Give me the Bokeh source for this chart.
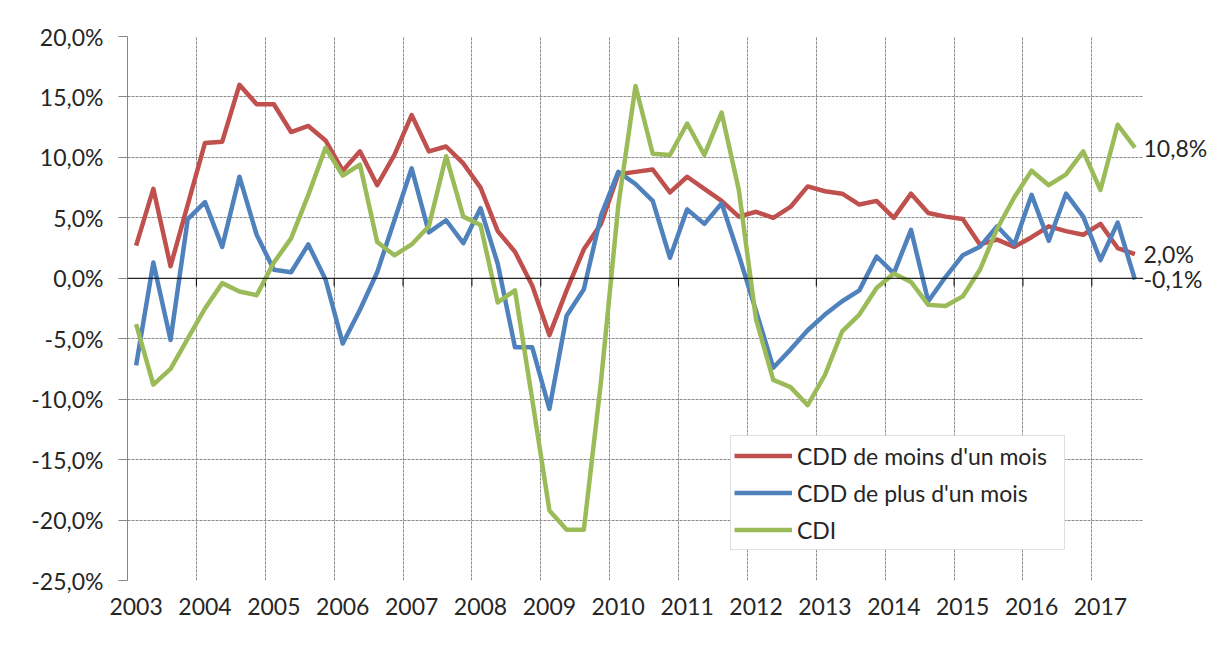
from bokeh.plotting import figure
from bokeh.models import (FixedTicker, CustomJSTickFormatter, Span, Legend,
                          LegendItem, LinearAxis, Range1d)
from bokeh.embed import file_html
from bokeh.resources import INLINE

years = list(range(2003, 2018))
n_quarters = 59  # 2003T1 .. 2017T3

cdd_moins = [2.7, 7.4, 1.0, 6.1, 11.2, 11.3, 16.0, 14.4, 14.4, 12.1, 12.6, 11.4,
             8.9, 10.5, 7.7, 10.2, 13.5, 10.5, 10.9, 9.5, 7.5, 3.9, 2.2, -0.6,
             -4.7, -1.0, 2.4, 4.5, 8.6, 8.8, 9.0, 7.1, 8.4, 7.4, 6.4, 5.1,
             5.5, 5.0, 5.9, 7.6, 7.2, 7.0, 6.1, 6.4, 5.0, 7.0, 5.4, 5.1,
             4.9, 2.8, 3.2, 2.6, 3.4, 4.3, 3.9, 3.6, 4.5, 2.5, 2.0]
cdd_plus = [-7.2, 1.3, -5.1, 4.9, 6.3, 2.6, 8.4, 3.6, 0.7, 0.5, 2.8, -0.1,
            -5.4, -2.6, 0.5, 4.8, 9.1, 3.8, 4.8, 2.9, 5.8, 1.2, -5.7, -5.7,
            -10.8, -3.1, -0.9, 5.2, 8.8, 7.8, 6.4, 1.7, 5.7, 4.5, 6.2, 1.9,
            -2.7, -7.4, -5.9, -4.3, -3.0, -1.9, -1.0, 1.8, 0.4, 4.0, -1.9, 0.1,
            1.9, 2.6, 4.3, 2.8, 6.9, 3.1, 7.0, 5.1, 1.5, 4.6, -0.1]
cdi = [-3.8, -8.8, -7.5, -5.0, -2.5, -0.4, -1.1, -1.4, 1.3, 3.3, 6.9, 10.8,
       8.5, 9.4, 3.0, 1.9, 2.8, 4.3, 10.1, 5.1, 4.4, -2.0, -1.0, -10.0,
       -19.2, -20.8, -20.8, -8.5, 6.0, 15.9, 10.3, 10.2, 12.8, 10.2, 13.7, 7.3,
       -3.4, -8.4, -9.0, -10.5, -8.0, -4.4, -3.0, -0.8, 0.4, -0.3, -2.2, -2.3,
       -1.5, 0.7, 4.1, 6.7, 8.9, 7.7, 8.6, 10.5, 7.3, 12.7, 10.8]

series_names = ["CDD de moins d'un mois", "CDD de plus d'un mois", "CDI"]
series_colors = ["#C0504D", "#4F81BD", "#9BBB59"]
y_ticks = [-25, -20, -15, -10, -5, 0, 5, 10, 15, 20]

x = list(range(n_quarters))
FONT = "Lato"
FSIZE = "23px"
TXT = "#262626"
GRID = "#8c8c8c"
PCT = CustomJSTickFormatter(code="return tick.toFixed(1).replace('.', ',') + '%';")

p = figure(width=1210, height=655, x_range=Range1d(-0.5, n_quarters - 0.5),
           y_range=Range1d(y_ticks[0], y_ticks[-1]),
           output_backend="svg", toolbar_location=None,
           min_border_left=127, min_border_right=66,
           min_border_top=36, min_border_bottom=75)
p.outline_line_color = None
p.background_fill_color = "white"
p.border_fill_color = "white"
p.styles = {"outline": "2px solid #8c8c8c", "outline-offset": "-4px"}

# y axis
p.yaxis.ticker = FixedTicker(ticks=y_ticks)
p.yaxis.formatter = PCT
p.yaxis.axis_line_color = "#868686"
p.yaxis.major_tick_line_color = "#868686"
p.yaxis.major_tick_out = 9
p.yaxis.major_tick_in = 0
p.yaxis.minor_tick_line_color = None
p.yaxis.major_label_standoff = 15
p.yaxis.major_label_text_font = FONT
p.yaxis.major_label_text_font_size = FSIZE
p.yaxis.major_label_text_color = TXT

# x axis (labels at first quarter of each year)
p.xaxis.ticker = FixedTicker(ticks=[4 * k for k in range(len(years))])
p.xaxis.major_label_overrides = {4 * k: str(yr) for k, yr in enumerate(years)}
p.xaxis.axis_line_color = None
p.xaxis.major_tick_line_color = None
p.xaxis.minor_tick_line_color = None
p.xaxis.major_label_standoff = 11
p.xaxis.major_label_text_font = FONT
p.xaxis.major_label_text_font_size = FSIZE
p.xaxis.major_label_text_color = TXT

# grids
bounds = [4 * k - 0.5 for k in range(1, len(years))]
p.xgrid.ticker = FixedTicker(ticks=bounds)
p.xgrid.grid_line_color = GRID
p.xgrid.grid_line_dash = "3 1"
p.xgrid.grid_line_width = 1
p.ygrid.grid_line_color = GRID
p.ygrid.grid_line_dash = "3 1"
p.ygrid.grid_line_width = 1

# zero line with tick marks between years
p.add_layout(Span(location=0, dimension="width", line_color="black", line_width=1))
tick_bounds = [-0.5] + bounds
p.segment(x0=tick_bounds, y0=[0] * len(tick_bounds), x1=tick_bounds,
          y1=[-0.66] * len(tick_bounds), line_color="black", line_width=1)

renderers = []
for vals, col in zip([cdd_moins, cdd_plus, cdi], series_colors):
    r = p.line(x, vals, line_color=col, line_width=4.5, line_join="round")
    renderers.append(r)

legend = Legend(items=[LegendItem(label=nm, renderers=[r])
                       for nm, r in zip(series_names, renderers)],
                location=(603, 30), orientation="vertical")
legend.border_line_color = "#bfbfbf"
legend.border_line_width = 1
legend.background_fill_color = "white"
legend.background_fill_alpha = 1
legend.label_text_font = FONT
legend.label_text_font_size = FSIZE
legend.label_text_color = TXT
legend.glyph_width = 58
legend.glyph_height = 33
legend.label_height = 33
legend.label_width = 264
legend.spacing = 4
legend.padding = 3
legend.margin = 0
legend.label_standoff = 5
p.add_layout(legend)

# end-of-series value labels, as a label-only axis on the right
last_values = [cdi[-1], cdd_moins[-1], cdd_plus[-1]]
right = LinearAxis(ticker=FixedTicker(ticks=last_values), formatter=PCT)
right.axis_line_color = None
right.major_tick_line_color = None
right.minor_tick_line_color = None
right.major_tick_out = 0
right.major_tick_in = 0
right.major_label_standoff = 0
right.major_label_text_font = FONT
right.major_label_text_font_size = FSIZE
right.major_label_text_color = TXT
p.add_layout(right, "right")

open("out.html", "w").write(file_html(p, INLINE))
